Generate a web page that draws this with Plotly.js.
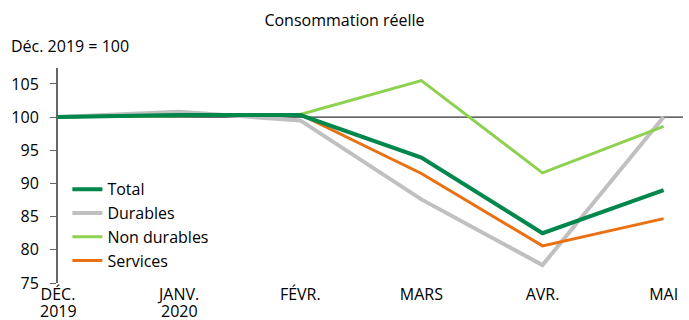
<!DOCTYPE html>
<html><head><meta charset="utf-8">
<script src="https://cdn.plot.ly/plotly-3.0.1.min.js"></script>
<style>body{margin:0;padding:0;background:#fff}#chart{width:689px;height:320px}</style>
</head><body><div id="chart"></div>
<script>
const months = ["DÉC.", "JANV.", "FÉVR.", "MARS", "AVR.", "MAI"];
const years = ["2019", "2020", "", "", "", ""];
const total = [100, 100.3, 100.3, 93.9, 82.5, 89.0];
const durables = [100, 100.8, 99.5, 87.6, 77.7, 100.0];
const nonDurables = [100, 100.2, 100.4, 105.5, 91.6, 98.6];
const services = [100, 100.3, 100.4, 91.5, 80.6, 84.7];
const yTicks = [75, 80, 85, 90, 95, 100, 105];
const seriesNames = ["Total", "Durables", "Non durables", "Services"];

const xIdx = months.map((_, i) => i);
const font = "Open Sans, Liberation Sans, sans-serif";
const FS = 16;
const specs = [
  {name: seriesNames[1], y: durables, color: "#c0c0c0", w: 4},
  {name: seriesNames[2], y: nonDurables, color: "#8dd14f", w: 3},
  {name: seriesNames[3], y: services, color: "#ea7012", w: 3},
  {name: seriesNames[0], y: total, color: "#00874b", w: 4}
];
const data = specs.map(s => ({x: xIdx, y: s.y, name: s.name, type: "scatter", mode: "lines",
  legendgroup: s.name, legendrank: seriesNames.indexOf(s.name),
  line: {color: s.color, width: s.w}, hoverinfo: "skip"}));

const yearAnn = years.map((t, i) => ({text: t, xref: "x", yref: "paper", x: i, y: -0.128, yanchor: "middle",
  xanchor: "center", showarrow: false, borderpad: 0, font: {family: font, size: FS, color: "#000"}})).filter(a => a.text);

const layout = {
  width: 689, height: 320,
  margin: {l: 58, r: 6, t: 68, b: 37},
  paper_bgcolor: "#fff", plot_bgcolor: "#fff",
  font: {family: font, size: FS, color: "#000"},
  title: {text: "Consommation réelle", x: 0.5, xanchor: "center", y: 0.9375, yanchor: "middle", font: {family: font, size: FS, color: "#000"}},
  showlegend: true,
  legend: {x: 0.015, y: 0.515, xanchor: "left", yanchor: "top", bgcolor: "rgba(0,0,0,0)",
    traceorder: "grouped", font: {family: font, size: FS, color: "#000"}, itemwidth: 30, tracegroupgap: 0},
  xaxis: {range: [0, 5.16], tickmode: "array", tickvals: xIdx, ticktext: months,
    showgrid: false, zeroline: false, showline: false, ticks: "", tickfont: {family: font, size: FS, color: "#000"}},
  yaxis: {range: [75, 107.4], tickmode: "array", tickvals: yTicks, showgrid: false, zeroline: false,
    showline: true, linecolor: "#666", linewidth: 2, ticks: "outside", ticklen: 6, tickcolor: "#666",
    ticklabelstandoff: 8, tickfont: {family: font, size: FS, color: "#000"}},
  shapes: [{type: "line", xref: "paper", x0: 0, x1: 1, yref: "y", y0: 100, y1: 100, line: {color: "#000", width: 1}, layer: "below"}],
  annotations: [{text: "Déc. 2019 = 100", xref: "paper", yref: "paper", x: -0.078, y: 1.102, xanchor: "left", yanchor: "middle", showarrow: false, font: {family: font, size: FS, color: "#000"}}].concat(yearAnn)
};
Plotly.newPlot("chart", data, layout, {displayModeBar: false, staticPlot: true});
</script></body></html>
